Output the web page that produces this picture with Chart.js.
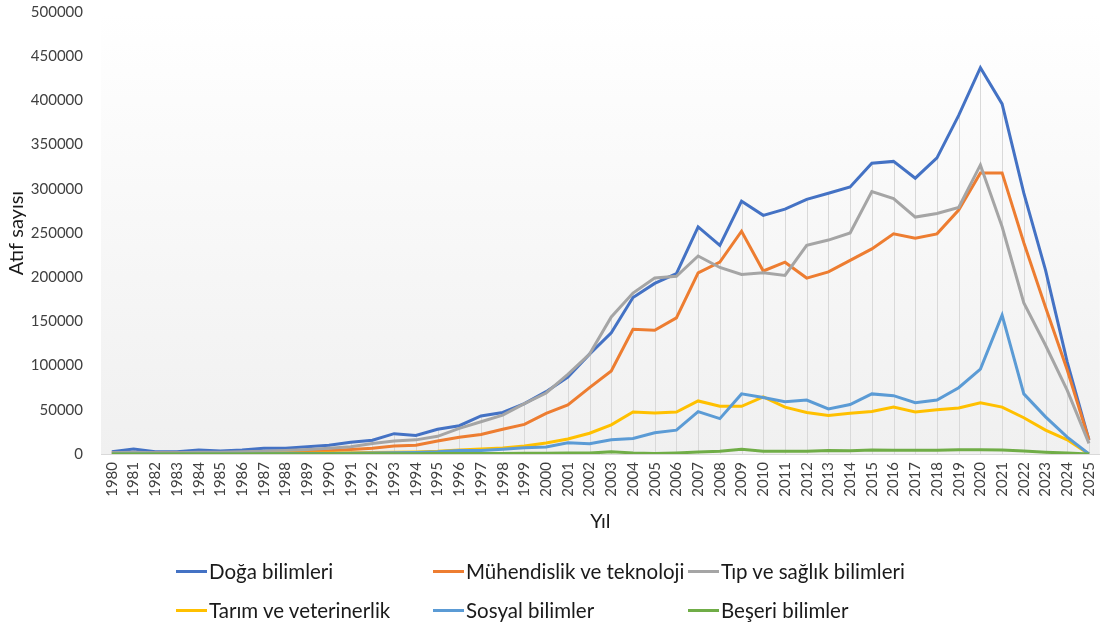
<!DOCTYPE html>
<html>
<head>
<meta charset="utf-8">
<title>Atıf sayısı</title>
<script src="https://cdn.jsdelivr.net/npm/chart.js@4"></script>
<style>
    body { margin: 0; background: #fff; }
    #wrap { position: relative; width: 1115px; height: 623px; font-family: Lato, sans-serif; }
    #legend .item {
        position: absolute;
        display: flex;
        align-items: center;
        transform: translateY(-50%);
        font-size: 20.5px;
        color: #1a1a1a;
        white-space: nowrap;
    }
    #legend .swatch { width: 31px; height: 3px; margin-right: 2px; }
</style>
</head>
<body>
<div id="wrap">
    <canvas id="citeChart" width="1115" height="623"></canvas>
    <div id="legend"></div>
</div>
<script>
const years = Array.from({ length: 46 }, (_, i) => String(1980 + i));

const seriesNames = ['Doğa bilimleri', 'Mühendislik ve teknoloji', 'Tıp ve sağlık bilimleri',
    'Tarım ve veterinerlik', 'Sosyal bilimler', 'Beşeri bilimler'];
const seriesColors = ['#4472C4', '#ED7D31', '#A5A5A5', '#FFC000', '#5B9BD5', '#70AD47'];

const doga = [2600, 5600, 2600, 2600, 4500, 3400, 4500, 6400, 6400, 8300, 10000, 13200, 15500, 23000, 21000, 28000,
    32000, 43000, 47000, 57000, 70500, 87000, 113000, 137000, 177000, 193000, 204000, 257000, 236000, 286000,
    270000, 277000, 288000, 295000, 302000, 329000, 331000, 312000, 335000, 383000, 437000, 396000, 295000,
    208000, 104000, 16000];
const muhendislik = [1000, 1200, 1000, 1000, 1500, 1300, 1600, 2000, 2500, 3000, 3800, 5000, 6400, 9000, 10000, 14700,
    19000, 22000, 28000, 33500, 46000, 55500, 75000, 94000, 141000, 140000, 154000, 205000, 217000, 252000,
    207000, 217000, 199000, 206000, 219000, 232000, 249000, 244000, 249000, 276000, 318000, 318000, 239000,
    166000, 95000, 16000];
const tip = [1500, 2000, 1500, 1500, 2000, 2000, 2500, 3000, 4000, 5000, 6400, 8300, 12000, 14700, 16000, 20000,
    29000, 36500, 44000, 57000, 69000, 90000, 113000, 155000, 182000, 199000, 201000, 224000, 211000, 203000,
    205000, 202000, 236000, 242000, 250000, 297000, 289000, 268000, 272000, 279000, 327000, 257000, 171000,
    123000, 72000, 12000];
const tarim = [300, 400, 400, 400, 500, 500, 600, 700, 800, 900, 1100, 1300, 1600, 2000, 2300, 3000,
    4500, 5600, 6800, 9000, 12500, 17000, 23500, 33000, 47500, 46500, 47500, 60000, 54000, 54000,
    64500, 53000, 47000, 43500, 46000, 48000, 53000, 47500, 50000, 52000, 58000, 53000, 41000,
    27000, 16000, 0];
const sosyal = [200, 200, 200, 200, 300, 300, 300, 400, 500, 600, 700, 900, 1100, 1400, 1700, 2500,
    4000, 4000, 5500, 7000, 8000, 12800, 11500, 16000, 17500, 24000, 27000, 48000, 40000, 68000,
    64000, 59000, 61000, 51000, 56000, 68000, 66000, 58000, 61000, 75000, 96000, 157000, 68000,
    42000, 19000, 0];
const beseri = [100, 100, 100, 100, 100, 100, 100, 150, 150, 200, 200, 250, 300, 400, 400, 500,
    600, 600, 700, 800, 900, 1000, 1000, 2600, 1200, 600, 1200, 2200, 3000, 5300,
    3200, 3200, 3200, 4000, 3600, 4500, 4200, 4300, 4300, 4800, 4800, 4400, 3300,
    2000, 1000, 0];

const seriesData = [doga, muhendislik, tip, tarim, sosyal, beseri];

Chart.defaults.font.family = 'Lato, sans-serif';

// light gradient behind the plot, like the Excel original
const plotBackground = {
    id: 'plotBackground',
    beforeDraw(chart) {
        const { ctx, chartArea: a } = chart;
        const g = ctx.createLinearGradient(0, a.top, 0, a.bottom);
        g.addColorStop(0, '#ffffff');
        g.addColorStop(1, '#f0f0f0');
        ctx.save();
        ctx.fillStyle = g;
        ctx.fillRect(a.left, a.top, a.right - a.left, a.bottom - a.top);
        ctx.restore();
    }
};

// vertical drop lines from the axis up to the highest series at each year
const dropLines = {
    id: 'dropLines',
    beforeDatasetsDraw(chart) {
        const { ctx, scales: { x, y } } = chart;
        ctx.save();
        ctx.strokeStyle = '#d9d9d9';
        ctx.lineWidth = 1;
        years.forEach((_, i) => {
            const top = Math.max(...chart.data.datasets.map(d => d.data[i]));
            const px = Math.round(x.getPixelForValue(i)) + 0.5;
            ctx.beginPath();
            ctx.moveTo(px, y.getPixelForValue(0));
            ctx.lineTo(px, y.getPixelForValue(top));
            ctx.stroke();
        });
        ctx.restore();
    }
};

const ctx = document.getElementById('citeChart').getContext('2d');

new Chart(ctx, {
    type: 'line',
    data: {
        labels: years,
        datasets: seriesNames.map((name, i) => ({
            label: name,
            data: seriesData[i],
            borderColor: seriesColors[i],
            backgroundColor: seriesColors[i],
            order: seriesNames.length - i
        }))
    },
    options: {
        responsive: false,
        animation: false,
        layout: { padding: { top: 12, right: 3, bottom: 75, left: 0 } },
        elements: {
            point: { radius: 0 },
            line: { borderWidth: 3, tension: 0 }
        },
        plugins: {
            legend: { display: false },
            tooltip: { enabled: false }
        },
        scales: {
            x: {
                offset: true,
                grid: { display: false, drawTicks: false },
                border: { display: true, color: '#d9d9d9', width: 1 },
                ticks: {
                    autoSkip: false,
                    minRotation: 90,
                    maxRotation: 90,
                    padding: 8,
                    color: '#404040',
                    font: { size: 15 }
                },
                title: {
                    display: true,
                    text: 'Yıl',
                    color: '#1a1a1a',
                    font: { size: 20 },
                    padding: { top: 0, bottom: 14 }
                },
                afterFit(scale) { scale.height = 94; }
            },
            y: {
                min: 0,
                max: 500000,
                // tick marks hidden, but their length keeps the labels away from the plot
                grid: { display: false, drawTicks: true, tickLength: 15 },
                border: { display: false },
                ticks: {
                    stepSize: 50000,
                    padding: 3,
                    color: '#404040',
                    font: { size: 15 },
                    callback: v => String(v)
                },
                title: {
                    display: true,
                    text: 'Atıf sayısı',
                    color: '#1a1a1a',
                    font: { size: 20 },
                    padding: { top: 5, bottom: 0 }
                },
                afterFit(scale) { scale.width = 101; }
            }
        }
    },
    plugins: [plotBackground, dropLines]
});

// legend laid out in a 3x2 grid like the original
const legendCols = [176, 433, 688];
const legendRows = [571, 610];
const legendEl = document.getElementById('legend');
seriesNames.forEach((name, i) => {
    const item = document.createElement('div');
    item.className = 'item';
    item.style.left = legendCols[i % 3] + 'px';
    item.style.top = legendRows[Math.floor(i / 3)] + 'px';
    const sw = document.createElement('span');
    sw.className = 'swatch';
    sw.style.background = seriesColors[i];
    const txt = document.createElement('span');
    txt.textContent = name;
    item.appendChild(sw);
    item.appendChild(txt);
    legendEl.appendChild(item);
});
</script>
</body>
</html>
